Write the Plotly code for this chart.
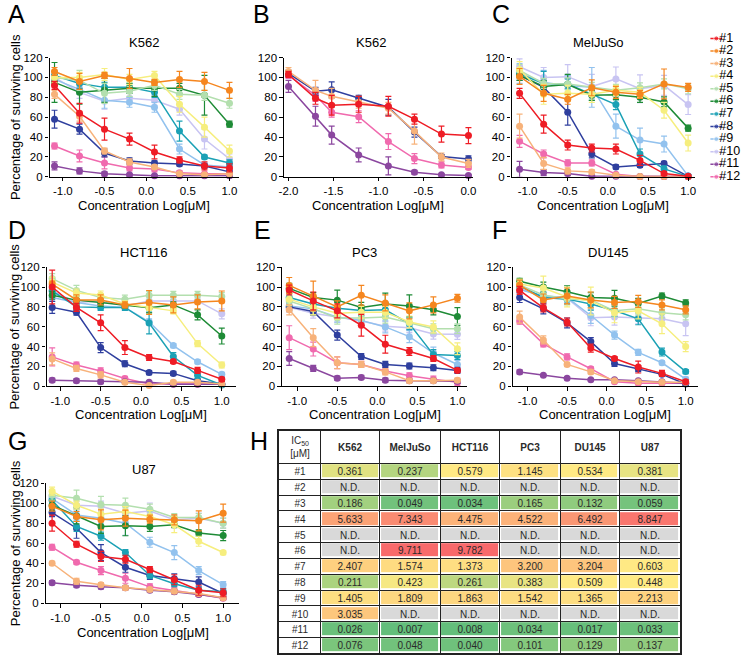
import numpy as np
import plotly.graph_objects as go

FONT = "Liberation Sans, Arial, sans-serif"
W, H = 750, 662

SERIES = ["#1", "#2", "#3", "#4", "#5", "#6", "#7", "#8", "#9", "#10", "#11", "#12"]
COLORS = ["#ee1c25", "#f5861f", "#f7b27a", "#f6ee7e", "#b3dfae", "#1e8b36",
          "#1ba1b5", "#2f3f9e", "#92c2ee", "#c8c4f2", "#8b479f", "#f06aae"]

X_STD = [-1.1, -0.8, -0.5, -0.2, 0.1, 0.4, 0.7, 1.0]
X_B = [-2.0, -1.7, -1.52, -1.22, -0.89, -0.6, -0.3, 0.0]
X_TICKS_STD = [-1.0, -0.5, 0.0, 0.5, 1.0]
X_TICKS_B = [-2.0, -1.5, -1.0, -0.5, 0.0]
Y_TICKS = [0, 20, 40, 60, 80, 100, 120]

# ---- Panel A: K562 ----
A_MEAN = [
    [92, 64, 48, 38, 25, 17, 11, 9],
    [106, 96, 102, 99, 95, 98, 96, 87],
    [83, 61, 26, 15, 10, 3, 2, 3],
    [100, 100, 103, 98, 102, 73, 50, 26],
    [100, 97, 84, 86, 92, 83, 82, 74],
    [95, 85, 87, 89, 89, 89, 82, 53],
    [102, 94, 90, 90, 85, 46, 20, 14],
    [58, 48, 24, 16, 14, 13, 11, 5],
    [98, 88, 77, 75, 70, 28, 12, 10],
    [100, 85, 76, 79, 77, 68, 38, 18],
    [11, 6, 3, 2, 1, 1, 1, 1],
    [31, 21, 14, 9, 8, 4, 3, 3],
]
A_ERR = [
    [4, 10, 11, 6, 7, 3, 4, 4],
    [4, 8, 3, 10, 3, 8, 9, 8],
    [4, 5, 3, 3, 2, 1, 1, 1],
    [5, 5, 6, 5, 4, 8, 10, 6],
    [6, 10, 10, 5, 5, 5, 5, 5],
    [20, 12, 12, 5, 8, 5, 20, 3],
    [4, 5, 5, 4, 5, 10, 2, 3],
    [9, 5, 4, 3, 2, 2, 2, 2],
    [5, 5, 8, 5, 5, 5, 2, 2],
    [5, 6, 8, 5, 5, 6, 10, 5],
    [4, 3, 2, 1, 1, 1, 1, 1],
    [3, 6, 6, 3, 3, 2, 1, 1],
]

# ---- Panel B: K562 (low concentrations) ----
B_SERIES = ["#1", "#3", "#8", "#11", "#12"]
B_MEAN = [
    [103, 79, 72, 73, 71, 58, 43, 41.5],
    [106, 87, 81, 75, 69, 46, 20, 13.5],
    [104, 86, 87.5, 79, 70, 45, 20.5, 18],
    [91, 61, 42, 22, 11, 4.6, 2, 1.3],
    [102, 82, 65, 60.5, 35.5, 18.4, 12, 9.5],
]
B_ERR = [
    [3, 6, 10, 8, 10, 5, 8, 8],
    [4, 10, 8, 6, 6, 13, 4, 4],
    [3, 4, 8, 3, 8, 5, 2, 3],
    [6, 10, 9, 7, 9, 2, 1, 1],
    [3, 6, 5, 6, 8, 5, 3, 2],
]

# ---- Panel C: MelJuSo ----
C_MEAN = [
    [84, 53, 32, 29, 28, 16.5, 3.3, 0.5],
    [101, 84, 78, 89.6, 85, 83, 93.5, 90],
    [51, 13.5, 6, 5, 1.7, 0.3, 0.3, 0.3],
    [108, 83, 84, 83, 87, 85, 67, 34],
    [107, 94, 93.5, 90, 87, 89.6, 93.5, 88.6],
    [102, 91, 93, 82, 82.6, 80, 75.4, 49],
    [103.5, 94, 93.5, 83, 72.7, 23, 8, 0.5],
    [102, 90, 65, 23, 10, 11.6, 13.5, 0.5],
    [104, 95, 92, 90, 51, 37, 33, 1],
    [110.7, 100, 100.8, 91, 98.5, 88.6, 92, 72.7],
    [7.6, 4.3, 3.3, 0.5, 0.5, 0.3, 0.3, 0.3],
    [35.7, 23, 14, 14, 2.6, 0.3, 0.3, 0.3],
]
C_ERR = [
    [5, 9, 5, 4, 5, 5, 2, 1],
    [8, 8, 5, 8, 6, 4, 15, 4],
    [12, 6, 3, 2, 1, 0.5, 0.5, 0.5],
    [8, 10, 8, 8, 5, 5, 8, 8],
    [6, 5, 6, 5, 6, 5, 5, 5],
    [5, 6, 10, 5, 5, 5, 5, 3],
    [4, 12, 5, 6, 5, 5, 3, 1],
    [5, 6, 13, 4, 2, 2, 2, 1],
    [10, 12, 10, 20, 12, 12, 8, 1],
    [8, 10, 12, 12, 12, 14, 10, 10],
    [8, 3, 2, 1, 1, 0.5, 0.5, 0.5],
    [6, 4, 3, 3, 1, 0.5, 0.5, 0.5],
]

# ---- Panel D: HCT116 ----
D_MEAN = [
    [100, 79.5, 64, 39, 29, 25, 16, 7],
    [103, 87, 87, 82, 84.5, 82, 85, 86],
    [27.6, 18, 11.5, 4, 0.7, 4, 4, 2.3],
    [105, 94, 92, 83, 79.5, 76, 43, 21.4],
    [108.5, 96.6, 89.4, 87.8, 91.7, 91.7, 91.7, 90.4],
    [91.7, 86.8, 84.5, 82, 79, 82, 72, 50.6],
    [96, 80, 79.5, 79.5, 63.8, 30, 11, 1.3],
    [79.5, 74.6, 39, 22.7, 13.8, 13, 5.6, 2.3],
    [89.4, 84.5, 81, 79.5, 65, 41, 24.7, 12],
    [96, 84.5, 86, 81, 86, 86, 86, 73],
    [6.2, 5.6, 4.6, 4.6, 4, 2, 2, 2],
    [29.6, 21.4, 15.5, 7.9, 2.3, 2.3, 2.3, 2.3],
]
D_ERR = [
    [17, 4, 8, 7, 3, 2, 3, 2],
    [3, 5, 5, 3, 12, 8, 7, 10],
    [6, 3, 3, 2, 1, 2, 2, 1],
    [5, 4, 4, 3, 3, 3, 3, 3],
    [5, 5, 4, 4, 4, 4, 4, 4],
    [4, 4, 4, 3, 5, 3, 5, 8],
    [4, 3, 3, 3, 11, 4, 3, 2],
    [6, 3, 5, 3, 2, 2, 2, 2],
    [4, 4, 4, 3, 3, 2, 2, 2],
    [4, 4, 4, 3, 4, 4, 3, 5],
    [2, 2, 2, 1, 1, 1, 1, 1],
    [9, 3, 3, 2, 1, 1, 1, 1],
]

# ---- Panel E: PC3 ----
E_MEAN = [
    [97, 86, 76, 61.5, 42.4, 35, 28, 16],
    [101.6, 91, 80, 91.7, 84, 76, 82, 88.7],
    [77, 49, 23.7, 22, 14.5, 5.6, 5.6, 6.2],
    [87.8, 80, 73.6, 74.6, 74.6, 64.8, 59.8, 37.8],
    [86, 78, 68.7, 68.7, 69.7, 63.8, 58, 58],
    [98.6, 89.4, 86.8, 79.5, 82.8, 81, 77, 70.3],
    [89.4, 82.8, 78.6, 76.3, 77, 63, 31.9, 31],
    [80, 75.3, 51.6, 30, 22, 20.4, 18.7, 16],
    [81, 78, 69.7, 66.4, 59.8, 50, 33.5, 22],
    [79.5, 73.6, 69.7, 65.7, 60.5, 59, 52.6, 52.3],
    [28, 18, 8.2, 8.9, 6.2, 5.6, 5.6, 5],
    [49, 37.5, 23.7, 22, 15.5, 10.5, 7.2, 4],
]
E_ERR = [
    [5, 9, 7, 11, 9, 4, 3, 2],
    [8, 15, 6, 10, 8, 8, 8, 4],
    [5, 9, 6, 3, 3, 2, 2, 2],
    [6, 8, 6, 6, 6, 6, 6, 6],
    [5, 6, 6, 5, 6, 5, 5, 5],
    [5, 5, 10, 5, 11, 11, 5, 9],
    [5, 6, 6, 5, 6, 6, 5, 4],
    [4, 4, 5, 3, 3, 3, 3, 3],
    [5, 5, 5, 5, 6, 6, 6, 4],
    [5, 5, 5, 5, 5, 5, 5, 5],
    [7, 3, 2, 2, 2, 2, 2, 2],
    [12, 7, 6, 3, 3, 3, 3, 3],
]

# ---- Panel F: DU145 ----
F_MEAN = [
    [96.6, 79, 64.8, 38.5, 28, 19.4, 13, 4.6],
    [102, 87, 91, 87, 84.5, 85.5, 82, 77],
    [69.7, 46.7, 22, 14.5, 5.6, 4.6, 4, 4],
    [103, 99, 90, 86, 74, 76, 63, 40],
    [102, 92, 88, 87, 76, 78, 74, 72],
    [105.8, 100, 95.3, 89.4, 88.7, 83.5, 91, 84],
    [101, 89.4, 87.8, 82.8, 76.3, 68, 34.5, 14.8],
    [89.4, 78, 63.8, 45, 23, 17.7, 12, 2.3],
    [97.6, 91, 89.4, 71.3, 51.6, 34.2, 23.7, 7.2],
    [98.6, 89.4, 88.7, 69, 69.7, 69, 68, 63],
    [14.5, 11, 8.2, 6.6, 6.6, 5.6, 4.6, 3],
    [65.7, 42.7, 29.6, 17.7, 4.6, 3, 3, 3],
]
F_ERR = [
    [4, 4, 4, 4, 2, 6, 3, 2],
    [5, 6, 8, 8, 6, 6, 5, 4],
    [6, 4, 2, 2, 1, 1, 1, 1],
    [5, 12, 10, 14, 10, 8, 10, 5],
    [5, 6, 6, 8, 6, 6, 5, 5],
    [3, 5, 6, 5, 8, 5, 3, 3],
    [3, 5, 5, 6, 6, 6, 4, 2],
    [5, 5, 5, 4, 3, 3, 2, 2],
    [4, 5, 5, 8, 4, 3, 2, 2],
    [4, 5, 5, 8, 8, 6, 6, 12],
    [2, 1, 1, 1, 1, 1, 1, 1],
    [3, 3, 3, 2, 1, 1, 1, 1],
]

# ---- Panel G: U87 ----
G_MEAN = [
    [80, 59, 46.8, 44, 33.7, 23.5, 13, 10.5],
    [97, 86.7, 83.4, 85, 84, 83.4, 82.4, 90],
    [40, 22, 18.6, 15.4, 13.7, 12, 9.8, 5.6],
    [112, 98, 89, 91.6, 86.7, 78.5, 62, 50.7],
    [108, 105, 98.8, 98, 94, 85.7, 85.7, 80],
    [98, 87.3, 76.8, 77.5, 76.8, 78.5, 70.3, 67.7],
    [103, 76.8, 67, 50.7, 27.8, 19.6, 13, 11.4],
    [90.6, 75, 50.7, 36, 27.8, 24.5, 21.3, 9.8],
    [104.6, 88.3, 85, 80, 61, 50.7, 32.7, 18.6],
    [107, 98, 97, 90, 92.2, 83.4, 85, 80],
    [20.6, 18, 16.4, 15.4, 13, 11.4, 8.8, 5.6],
    [56, 41, 32.7, 25, 16.4, 13, 9, 5],
]
G_ERR = [
    [8, 3, 5, 4, 3, 5, 5, 4],
    [5, 5, 10, 8, 4, 5, 10, 9],
    [2, 3, 2, 2, 2, 2, 2, 2],
    [4, 4, 5, 5, 6, 8, 5, 2],
    [5, 8, 8, 7, 5, 4, 4, 5],
    [5, 8, 7, 10, 5, 3, 3, 5],
    [4, 5, 4, 3, 3, 3, 3, 3],
    [4, 10, 8, 5, 4, 5, 5, 3],
    [4, 5, 5, 12, 5, 7, 4, 3],
    [4, 4, 5, 5, 8, 5, 5, 5],
    [2, 2, 2, 2, 2, 2, 2, 2],
    [3, 2, 4, 5, 3, 3, 2, 2],
]

# ---- Panel H: IC50 table (None = N.D.) ----
CELL_LINES = ["K562", "MelJuSo", "HCT116", "PC3", "DU145", "U87"]
IC50_K562 = [0.361, None, 0.186, 5.633, None, None, 2.407, 0.211, 1.405, 3.035, 0.026, 0.076]
IC50_MELJUSO = [0.237, None, 0.049, 7.343, None, 9.711, 1.574, 0.423, 1.809, None, 0.007, 0.048]
IC50_HCT116 = [0.579, None, 0.034, 4.475, None, 9.782, 1.373, 0.261, 1.863, None, 0.008, 0.040]
IC50_PC3 = [1.145, None, 0.165, 4.522, None, None, 3.200, 0.383, 1.542, None, 0.034, 0.101]
IC50_DU145 = [0.534, None, 0.132, 6.492, None, None, 3.204, 0.509, 1.365, None, 0.017, 0.129]
IC50_U87 = [0.381, None, 0.059, 8.847, None, None, 0.603, 0.448, 2.213, None, 0.033, 0.137]
IC50_COLS = [IC50_K562, IC50_MELJUSO, IC50_HCT116, IC50_PC3, IC50_DU145, IC50_U87]


def xdom(a, b):
    return [a / W, b / W]


def ydom(top, bottom):
    return [1 - bottom / H, 1 - top / H]


ROW_Y = {1: (52.5, 174), 2: (266, 387.3), 3: (486, 608.3)}
LETTER_Y = {1: 8, 2: 228, 3: 443}
TITLE_Y = {1: 37, 2: 251, 3: 472}
XTITLE_Y = {1: 203, 2: 416, 3: 638}

PANELS = [
    dict(letter="A", title="K562", x=X_STD, names=SERIES, mean=A_MEAN, err=A_ERR,
         xpx=(45, 237), row=1, xr=(-1.16, 1.12), ticks=X_TICKS_STD, tx=140, lx=1, ylab=True),
    dict(letter="B", title="K562", x=X_B, names=B_SERIES, mean=B_MEAN, err=B_ERR,
         xpx=(282, 473), row=1, xr=(-2.05, 0.05), ticks=X_TICKS_B, tx=370, lx=249, ylab=False),
    dict(letter="C", title="MelJuSo", x=X_STD, names=SERIES, mean=C_MEAN, err=C_ERR,
         xpx=(512, 697), row=1, xr=(-1.2, 1.08), ticks=X_TICKS_STD, tx=600, lx=490, ylab=False),
    dict(letter="D", title="HCT116", x=X_STD, names=SERIES, mean=D_MEAN, err=D_ERR,
         xpx=(42, 233), row=2, xr=(-1.17, 1.17), ticks=X_TICKS_STD, tx=140, lx=1, ylab=True),
    dict(letter="E", title="PC3", x=X_STD, names=SERIES, mean=E_MEAN, err=E_ERR,
         xpx=(280, 467), row=2, xr=(-1.19, 1.12), ticks=X_TICKS_STD, tx=363, lx=250, ylab=False),
    dict(letter="F", title="DU145", x=X_STD, names=SERIES, mean=F_MEAN, err=F_ERR,
         xpx=(513, 700), row=2, xr=(-1.19, 1.15), ticks=X_TICKS_STD, tx=610, lx=490, ylab=False),
    dict(letter="G", title="U87", x=X_STD, names=SERIES, mean=G_MEAN, err=G_ERR,
         xpx=(41, 237), row=3, xr=(-1.18, 1.2), ticks=X_TICKS_STD, tx=140, lx=1, ylab=True),
]

fig = go.Figure()
annotations = []
layout_axes = {}

for k, p in enumerate(PANELS, start=1):
    xa = "x" if k == 1 else f"x{k}"
    ya = "y" if k == 1 else f"y{k}"
    top, bottom = ROW_Y[p["row"]]
    for i in list(range(len(p["names"])))[::-1]:
        name = p["names"][i]
        col = COLORS[SERIES.index(name)]
        fig.add_trace(go.Scatter(
            x=p["x"], y=p["mean"][i], mode="lines+markers", name=name,
            xaxis=xa, yaxis=ya, cliponaxis=False, showlegend=False,
            line=dict(color=col, width=1.5),
            marker=dict(color=col, size=7),
            error_y=dict(type="data", array=p["err"][i], visible=True,
                         color=col, thickness=1.2, width=3),
        ))
    axcommon = dict(showline=True, linecolor="black", linewidth=1.3, ticks="outside",
                    ticklen=3.5, tickwidth=1.3, tickcolor="black", showgrid=False,
                    zeroline=False, fixedrange=True,
                    tickfont=dict(family=FONT, size=11.5, color="black"))
    layout_axes["xaxis" if k == 1 else f"xaxis{k}"] = dict(
        domain=xdom(*p["xpx"]), range=list(p["xr"]), anchor=ya,
        tickvals=p["ticks"], ticktext=[f"{t:.1f}" for t in p["ticks"]], **axcommon)
    layout_axes["yaxis" if k == 1 else f"yaxis{k}"] = dict(
        domain=ydom(top, bottom), range=[0, 120], anchor=xa,
        tickvals=Y_TICKS, ticktext=[str(t) for t in Y_TICKS], **axcommon)

    annotations.append(dict(text=p["title"], x=p["tx"] / W, y=1 - TITLE_Y[p["row"]] / H,
                            xref="paper", yref="paper", showarrow=False,
                            xanchor="center", yanchor="middle",
                            font=dict(family=FONT, size=13, color="black")))
    annotations.append(dict(text="Concentration Log[μM]", x=(p["xpx"][0] + p["xpx"][1]) / 2 / W,
                            y=1 - XTITLE_Y[p["row"]] / H, xref="paper", yref="paper",
                            showarrow=False, xanchor="center", yanchor="middle",
                            font=dict(family=FONT, size=13, color="black")))
    if p["ylab"]:
        annotations.append(dict(text="Percentage of surviving cells", x=10 / W,
                                y=1 - (top + bottom) / 2 / H, xref="paper", yref="paper",
                                showarrow=False, textangle=-90, xanchor="center",
                                yanchor="middle",
                                font=dict(family=FONT, size=13, color="black")))
    annotations.append(dict(text=p["letter"], x=p["lx"] / W, y=1 - LETTER_Y[p["row"]] / H,
                            xref="paper", yref="paper", showarrow=False,
                            xanchor="left", yanchor="middle",
                            font=dict(family=FONT, size=25, color="black")))

annotations.append(dict(text="H", x=246 / W, y=1 - LETTER_Y[3] / H, xref="paper", yref="paper",
                        showarrow=False, xanchor="left", yanchor="middle",
                        font=dict(family=FONT, size=25, color="black")))

# ---- custom legend on its own hidden axis ----
LK = 8
for i, name in enumerate(SERIES):
    fig.add_trace(go.Scatter(
        x=[5, 11, 17], y=[i, i, i], mode="lines+markers", xaxis=f"x{LK}", yaxis=f"y{LK}",
        line=dict(color=COLORS[i], width=1.5), marker=dict(color=COLORS[i], size=[0, 5, 0]),
        cliponaxis=False, showlegend=False, hoverinfo="skip"))
fig.add_trace(go.Scatter(
    x=[14] * len(SERIES), y=list(range(len(SERIES))), mode="text", text=SERIES,
    textposition="middle right", textfont=dict(family=FONT, size=12.5, color="black"),
    xaxis=f"x{LK}", yaxis=f"y{LK}", cliponaxis=False, showlegend=False, hoverinfo="skip"))
layout_axes[f"xaxis{LK}"] = dict(domain=xdom(708, 750), range=[0, 42], visible=False,
                                 anchor=f"y{LK}", fixedrange=True)
layout_axes[f"yaxis{LK}"] = dict(domain=ydom(26.6, 180.4), range=[11.5, -0.5], visible=False,
                                 anchor=f"x{LK}", fixedrange=True)

# ---- IC50 table drawn as a heatmap ----
numeric = [v for col in IC50_COLS for v in col if v is not None]
vmin, vmax = min(numeric), max(numeric)
vmid = float(np.percentile(numeric, 50))
GREEN, YELLOW, RED = (99, 190, 123), (255, 235, 132), (248, 105, 107)


def mix(c1, c2, t):
    return "rgb({},{},{})".format(*[round(a + (b - a) * t) for a, b in zip(c1, c2)])


def cell_color(v):
    if v is None:
        return "rgb(217,217,217)"
    if v <= vmid:
        return mix(GREEN, YELLOW, (v - vmin) / (vmid - vmin))
    return mix(YELLOW, RED, (v - vmid) / (vmax - vmid))


TBL_COLW = [42, 60, 61, 60, 61, 60, 61]
TBL_ROWH = [33] + [16.1] * len(SERIES)
x_edges = [0] + list(np.cumsum(TBL_COLW))
y_edges = [0] + list(np.cumsum(TBL_ROWH))

palette = []


def cidx(c):
    if c not in palette:
        palette.append(c)
    return palette.index(c)


WHITE = "rgb(255,255,255)"
z_rows = [[cidx(WHITE)] * 7]
t_rows = [["IC<sub>50</sub><br>[μM]"] + [f"<b>{c}</b>" for c in CELL_LINES]]
for r in range(len(SERIES)):
    z_rows.append([cidx(WHITE)] + [cidx(cell_color(col[r])) for col in IC50_COLS])
    t_rows.append([SERIES[r]] + [("N.D." if col[r] is None else f"{col[r]:.3f}") for col in IC50_COLS])
N = len(palette)
cscale = [[k / (N - 1), c] for k, c in enumerate(palette)]

fig.add_trace(go.Heatmap(
    x=x_edges, y=y_edges, z=z_rows, text=t_rows, texttemplate="%{text}",
    textfont=dict(family=FONT, size=10, color="#2a2a2a"),
    colorscale=cscale, zmin=0, zmax=N - 1, showscale=False,
    xgap=3, ygap=3, hoverinfo="skip", xaxis="x9", yaxis="y9"))
grid = dict(showgrid=True, gridcolor="#222222", gridwidth=1.3, showticklabels=False,
            ticks="", showline=True, mirror=True, linecolor="#222222", linewidth=1.6,
            zeroline=False, fixedrange=True)
layout_axes["xaxis9"] = dict(domain=xdom(277, 682), range=[0, x_edges[-1]],
                             tickvals=x_edges, anchor="y9", **grid)
layout_axes["yaxis9"] = dict(domain=ydom(433, 433 + y_edges[-1]), range=[y_edges[-1], 0],
                             tickvals=y_edges, anchor="x9", **grid)

fig.update_layout(
    width=W, height=H, margin=dict(l=0, r=0, t=0, b=0),
    paper_bgcolor="white", plot_bgcolor="white", showlegend=False,
    annotations=annotations, font=dict(family=FONT), **layout_axes,
)

fig.write_html("out.html", config={"displayModeBar": False},
               post_script="document.body.style.margin='0';document.body.style.padding='0';")
